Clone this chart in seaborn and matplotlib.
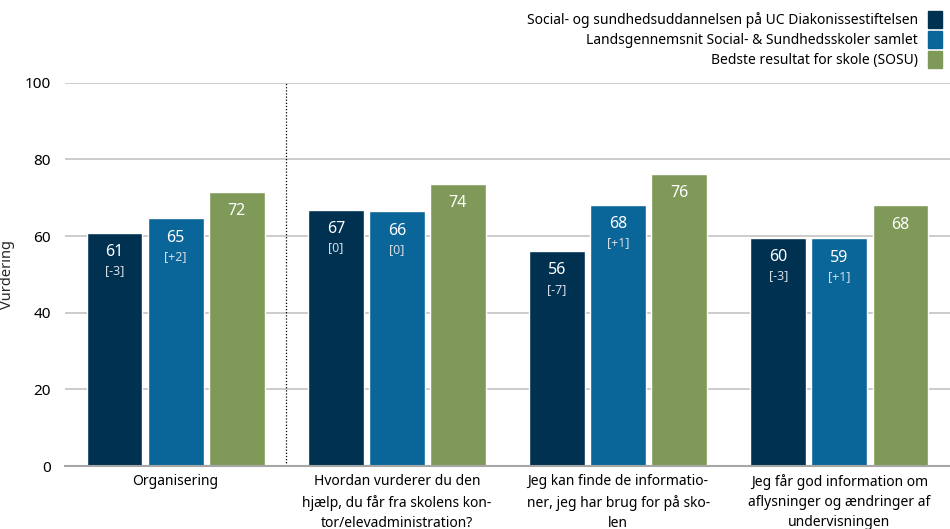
import pandas as pd
import matplotlib
matplotlib.use("Agg")
import matplotlib.pyplot as plt
import matplotlib.patches as mpatches
import seaborn as sns

# Data
categories = [
    "Organisering",
    "Hvordan vurderer du den\nhjælp, du får fra skolens kon-\ntor/elevadministration?",
    "Jeg kan finde de informatio-\nner, jeg har brug for på sko-\nlen",
    "Jeg får god information om\naflysninger og ændringer af\nundervisningen",
]
series = [
    "Social- og sundhedsuddannelsen på UC Diakonissestiftelsen",
    "Landsgennemsnit Social- & Sundhedsskoler samlet",
    "Bedste resultat for skole (SOSU)",
]
school = [60.9, 66.9, 56.1, 59.6]
national = [64.6, 66.4, 68.2, 59.4]
best = [71.6, 73.7, 76.3, 68.0]
school_change = ["[-3]", "[0]", "[-7]", "[-3]"]
national_change = ["[+2]", "[0]", "[+1]", "[+1]"]
colors = ["#003151", "#0a6598", "#7f9a58"]

rows = []
for vals, name in zip([school, national, best], series):
    for cat, v in zip(categories, vals):
        rows.append({"Kategori": cat, "Serie": name, "Vurdering": v})
df = pd.DataFrame(rows)

sns.set_style("white")
plt.rcParams["font.family"] = ["Noto Sans", "DejaVu Sans"]

fig = plt.figure(figsize=(9.5, 5.29), dpi=100)
ax = fig.add_axes([0.0684, 0.119, 0.9316, 0.7247])

sns.barplot(data=df, x="Kategori", y="Vurdering", hue="Serie",
            palette=colors, width=0.828, gap=0.085, saturation=1,
            order=categories, hue_order=series, legend=False, ax=ax)

ax.set_ylim(0, 100)
ax.set_xlim(-0.5, 3.5)
ax.set_yticks([0, 20, 40, 60, 80, 100])
ax.yaxis.grid(True, color="#c8c8c8", linewidth=1.3)
ax.set_axisbelow(True)
for s in ["top", "right", "left"]:
    ax.spines[s].set_visible(False)
ax.spines["bottom"].set_color("#a6a6a6")
ax.spines["bottom"].set_linewidth(1.5)
ax.tick_params(axis="both", length=0, labelsize=11, colors="#000000")
ax.tick_params(axis="y", pad=10)
ax.tick_params(axis="x", pad=6)
for lbl in ax.get_xticklabels():
    lbl.set_linespacing(1.45)
    lbl.set_fontsize(10)
ax.set_xlabel("")
ax.set_ylabel("Vurdering", fontsize=10.5)
ax.yaxis.set_label_coords(-0.057, 0.5)

ax.axvline(0.5, color="#000000", linestyle=(0, (1, 1.5)), linewidth=0.9)

# labels inside the bars
changes = [school_change, national_change, [None] * 4]
for container, chg in zip(ax.containers, changes):
    for bar, c in zip(container, chg):
        h = bar.get_height()
        xc = bar.get_x() + bar.get_width() / 2
        ax.annotate(f"{h:.0f}", (xc, h), xytext=(0, -14), textcoords="offset points",
                    ha="center", va="center", color="white", fontsize=11.5)
        if c:
            ax.annotate(c, (xc, h), xytext=(0, -27.5), textcoords="offset points",
                        ha="center", va="center", color="#d5dde6", fontsize=9)

handles = [mpatches.Patch(color=c) for c in colors]
fig.legend(handles, series, loc="upper right", bbox_to_anchor=(1.0, 0.995),
           frameon=False, markerfirst=False, fontsize=10, labelcolor="#000000",
           handlelength=0.95, handleheight=1.5, handletextpad=0.75,
           labelspacing=0.2, borderaxespad=0.2)

fig.savefig("out.png", dpi=100)
